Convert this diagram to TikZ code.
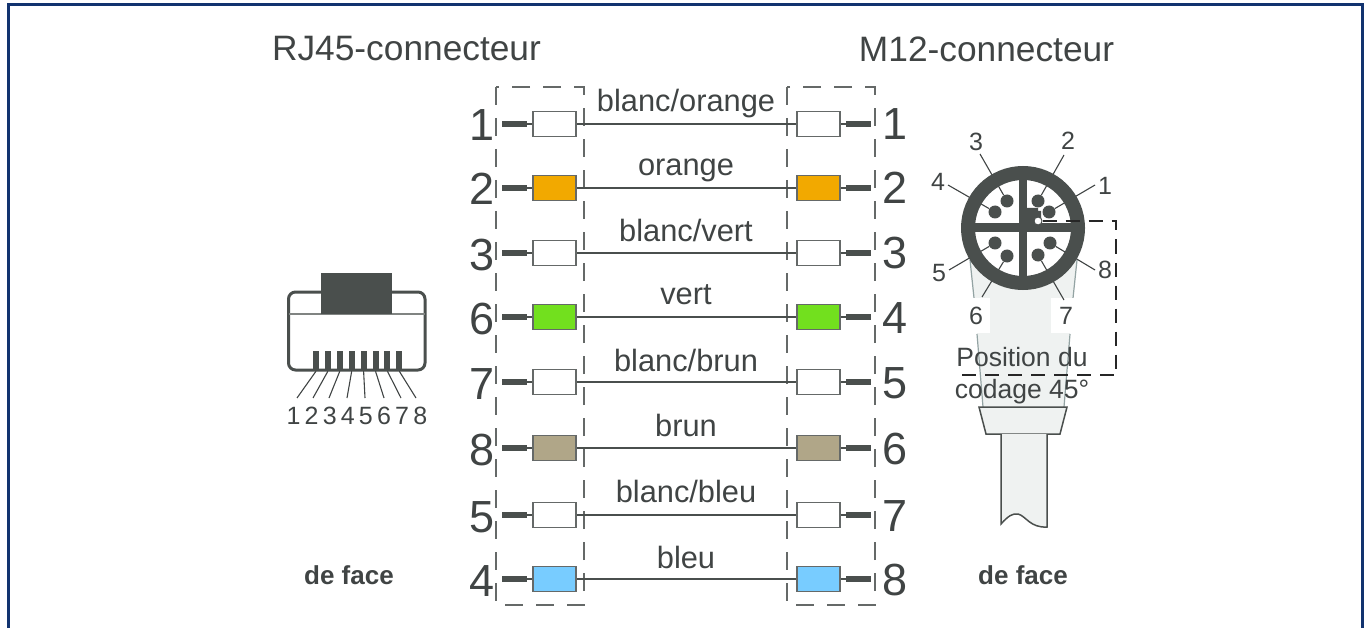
\documentclass[tikz,border=0pt]{standalone}
\usepackage{fontspec}
\setmainfont{Liberation Sans}
\usepackage{xcolor}
\definecolor{framecol}{HTML}{12336F}
\definecolor{darkcol}{HTML}{4A4F4D}
\definecolor{textcol}{HTML}{404444}
\definecolor{bodycol}{HTML}{EFF2F1}
\definecolor{edgecol}{HTML}{93A3A3}
\definecolor{orangecol}{HTML}{F2A900}
\definecolor{vertcol}{HTML}{72E01E}
\definecolor{bruncol}{HTML}{B0A688}
\definecolor{bleucol}{HTML}{78CCFF}
\newcommand{\fsize}[1]{\fontsize{#1}{#1}\selectfont}
\tikzset{
	txt/.style={text=textcol,inner sep=0pt},
	basetxt/.style={txt,anchor=base},
	wirebox/.style={draw=darkcol!85,line width=1.5pt,minimum width=43pt,minimum height=25pt,inner sep=0pt},
	stub/.style={draw=darkcol,line width=5.5pt},
	dashbox/.style={draw=darkcol!85,line width=1.6pt,dash pattern=on 18pt off 13pt},
	leader/.style={draw=textcol,line width=1.1pt},
	pin/.style={circle,fill=darkcol,minimum size=13pt,inner sep=0pt}
}
\begin{document}
\begin{tikzpicture}[x=1pt,y=-1pt]
		\useasboundingbox (0,0) rectangle (1372,628);
		% FRAME
		\draw [framecol,line width=3pt] (8.5,628) -- (8.5,4.5) -- (1362.5,4.5) -- (1362.5,628);
		% TITLES
		\node [txt,font=\fsize{35.3}] (rjtitle) at (406.5,49) {RJ45-connecteur};
		\node [txt,font=\fsize{35.3}] (mtitle) at (986.5,49) {M12-connecteur};
		% DASHED BOXES
		\draw [dashbox] (496,87) rectangle (584,605);
		\draw [dashbox] (787,87) rectangle (875,605);
		% WIRES
		\foreach \i/\y/\numl/\numr/\colr/\wname/\wy in {
			1/124/1/1/white/blanc\slash orange/112,
			2/188/2/2/orangecol/orange/176,
			3/253/3/3/white/blanc\slash vert/241,
			4/317/6/4/vertcol/vert/304,
			5/382/7/5/white/blanc\slash brun/371,
			6/448/8/6/bruncol/brun/436,
			7/515/5/7/white/blanc\slash bleu/502,
			8/579/4/8/bleucol/bleu/568}{
			\node [wirebox,fill=\colr] (l\i) at (554.5,\y) {};
			\node [wirebox,fill=\colr] (r\i) at (818.5,\y) {};
			\coordinate (la\i) at (527,\y);
			\coordinate (lb\i) at (502,\y);
			\coordinate (ra\i) at (846,\y);
			\coordinate (rb\i) at (871,\y);
			\draw [darkcol,line width=2pt] (l\i) -- (r\i);
			\draw [darkcol,line width=2pt] (la\i) -- (l\i);
			\draw [darkcol,line width=2pt] (ra\i) -- (r\i);
			\node [wirebox,fill=\colr] at (l\i) {};
			\node [wirebox,fill=\colr] at (r\i) {};
			\draw [stub] (lb\i) -- (la\i);
			\draw [stub] (ra\i) -- (rb\i);
			\node [basetxt,font=\fsize{45}] (nl\i) at (482,\y+17) {\numl};
			\node [basetxt,font=\fsize{45}] (nr\i) at (895,\y+16) {\numr};
			\node [basetxt,font=\fsize{30.8}] (w\i) at (686,\wy) {\wname};
		}
		% RJ45 PLUG
		\draw [darkcol,line width=3pt,rounded corners=7pt] (288.5,292) rectangle (425,370);
		\draw [darkcol!70,line width=2pt] (288.5,314) -- (425,314);
		\fill [darkcol] (321,273) rectangle (392,314);
		\foreach \i in {1,...,8}{
			\node [fill=darkcol,inner sep=0pt,minimum width=6pt,minimum height=20pt] (bar\i) at (316+11.9*\i-11.9,361) {};
			\node [txt,font=\fsize{25},inner ysep=2pt] (rj\i) at (293.5+18.1*\i-18.1,416) {\i};
		}
		\foreach \i/\xend in {1/297,2/313,3/329,4/347,5/365,6/384,7/401,8/416}{
			\coordinate (rjend\i) at (\xend,398);
			\draw [leader] (bar\i.south) -- (rjend\i);
		}
		\node [txt,font=\bfseries\fsize{26}] (facel) at (349,575) {de face};
		% M12 BODY
		\fill [bodycol] (970,260) -- (977,334) -- (983,407) -- (1064,407) -- (1070,334) -- (1077,260) -- cycle;
		\draw [edgecol,line width=1.2pt] (970,260) -- (974,298) (977,334) -- (983,407);
		\draw [edgecol,line width=1.2pt] (1077,260) -- (1073,298) (1070,334) -- (1064,407);
		\fill [white] (968,298) rectangle (990,333);
		\fill [white] (1051,298) rectangle (1075,333);
		\draw [darkcol,line width=1.5pt,fill=bodycol] (979,407) -- (1067,407) -- (1060,434) -- (986,434) -- cycle;
		\draw [darkcol,line width=1.5pt,fill=bodycol] (1001,434) -- (1001,524) .. controls (1008,516) and (1013,513) .. (1018,514) .. controls (1026,516) and (1030,528) .. (1047,527) -- (1047,434);
		% M12 FACE
		\fill [white] (1023,228) circle (55);
		\foreach \i/\px/\py/\ex/\ey/\tx/\ty in {
			1/1049/212/1095/185/1105/186,
			2/1038/201/1064/155/1068/141,
			3/1007/201/980/154/976/142,
			4/995/212/948/185/938/182,
			5/995/243/949/270/939/273,
			6/1007/256/982/297/976/316,
			7/1038/255/1064/300/1066/316,
			8/1050/243/1095/270/1105/270}{
			\node [pin] (p\i) at (\px,\py) {};
			\coordinate (e\i) at (\ex,\ey);
			\draw [leader] (p\i) -- (e\i);
			\node [txt,font=\fsize{25}] (t\i) at (\tx,\ty) {\i};
		}
		\draw [darkcol,line width=14pt] (1023,228) circle (55);
		\fill [darkcol] (1019,175) rectangle (1027,281);
		\fill [darkcol] (970,223) rectangle (1076,232);
		\fill [darkcol] (1027,225) -- (1027,208) -- (1038,208) -- (1038,211) -- (1041,211) -- (1041,225) -- cycle;
		% CODING POSITION
		\node [circle,draw=darkcol,fill=white,line width=1pt,minimum size=8pt,inner sep=0pt] (keydot) at (1038,221) {};
		\coordinate (cod1) at (1116,221);
		\coordinate (cod2) at (1116,375);
		\coordinate (cod3) at (957,375);
		\draw [black!85,line width=1.6pt,dash pattern=on 14pt off 9pt] (keydot.east) -- (cod1) -- (cod2) -- (cod3);
		\node [basetxt,font=\fsize{26.5}] (pos1) at (1022,366) {Position du};
		\node [basetxt,font=\fsize{26.5}] (pos2) at (1022,398) {codage 45°};
		\node [txt,font=\bfseries\fsize{26}] (facer) at (1023,575) {de face};
\end{tikzpicture}
\end{document}
